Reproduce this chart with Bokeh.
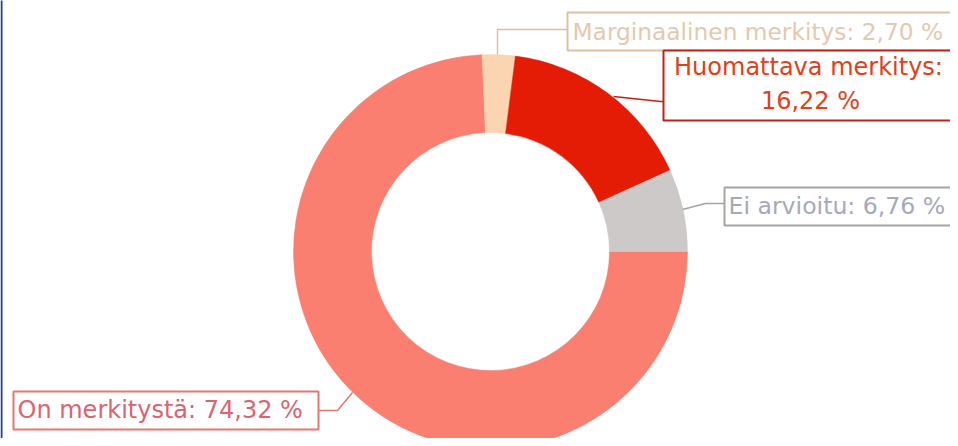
from bokeh.plotting import figure
from bokeh.models import Range1d, ColumnDataSource
from bokeh.core.properties import value
from bokeh.embed import file_html
from bokeh.resources import INLINE
import math

# ---- data ----
categories = ["On merkitystä", "Marginaalinen merkitys", "Huomattava merkitys", "Ei arvioitu"]
shares = [74.32, 2.70, 16.22, 6.76]
label_texts = ["On merkitystä: 74,32 %", "Marginaalinen merkitys: 2,70 %",
               "Huomattava merkitys:", "Ei arvioitu: 6,76 %"]
slice_colors = ["#fa7f71", "#fbd4b2", "#e41c05", "#cdc9c9"]
text_colors = ["#dc6470", "#e6c8ae", "#e2401a", "#a6a9bc"]
border_colors = ["#e27870", "#dfbfa0", "#c42012", "#a4a4a4"]

W, H = 950, 438
REF_H = 446

def X(px):
    return px

def Y(py):
    return REF_H - py

p = figure(width=W, height=H, output_backend="svg", toolbar_location=None,
           x_range=Range1d(0, W), y_range=Range1d(REF_H - H, REF_H), min_border=0)
p.axis.visible = False
p.grid.visible = False
p.outline_line_color = None
p.background_fill_color = "white"
p.border_fill_color = "white"

# left frame edge
p.quad(left=0, right=2, bottom=REF_H - H - 5, top=REF_H + 5, fill_color="#1f3d95",
       line_color=None)

# ---- donut ----
cx, cy = X(490), Y(251)
total = sum(shares)
cum = 0.0
starts, ends = [], []
for s in shares:
    a0 = -2 * math.pi * cum / total
    cum += s
    a1 = -2 * math.pi * cum / total
    starts.append(a1)
    ends.append(a0)
src = ColumnDataSource(dict(start=starts, end=ends, color=slice_colors, cat=categories))
p.annular_wedge(x=cx, y=cy, inner_radius=119, outer_radius=197,
                inner_radius_units="screen", outer_radius_units="screen",
                start_angle="start", end_angle="end", fill_color="color",
                line_color="color", line_width=0.5, source=src)

# ---- leader lines ----
leaders = [
    ([352, 337, 318], [392, 410, 410]),
    ([497, 497, 567], [54, 29, 29]),
    ([613, 660, 663], [96, 101, 101]),
    ([682, 705, 724], [209, 203, 203]),
]
for (xs, ys), c in zip(leaders, border_colors):
    p.line([X(v) for v in xs], [Y(v) for v in ys], line_color=c, line_width=1.5)

# ---- label boxes ----
boxes = [
    (13, 318, 391, 429),
    (567, 957, 12, 50),
    (663, 962, 50, 120),
    (724, 955, 187, 225),
]
for (l, r, t, b), c in zip(boxes, border_colors):
    p.quad(left=X(l), right=X(r), top=Y(t), bottom=Y(b), fill_color="white",
           line_color=c, line_width=2)

font = value("DejaVu Sans")
fs = "24px"
p.text(x=[X(17)], y=[Y(409)], text=[label_texts[0]], text_color=text_colors[0],
       text_font=font, text_font_size=fs, text_baseline="middle", text_align="left")
p.text(x=[X(572)], y=[Y(31)], text=[label_texts[1]], text_color=text_colors[1],
       text_font=font, text_font_size="23.3px", text_baseline="middle", text_align="left")
p.text(x=[X(808)], y=[Y(66)], text=[label_texts[2]], text_color=text_colors[2],
       text_font=font, text_font_size=fs, text_baseline="middle", text_align="center")
p.text(x=[X(810)], y=[Y(100)], text=["16,22 %"], text_color=text_colors[2],
       text_font=font, text_font_size=fs, text_baseline="middle", text_align="center")
p.text(x=[X(728)], y=[Y(205)], text=[label_texts[3]], text_color=text_colors[3],
       text_font=font, text_font_size="23.6px", text_baseline="middle", text_align="left")

open("out.html", "w").write(file_html(p, INLINE))
